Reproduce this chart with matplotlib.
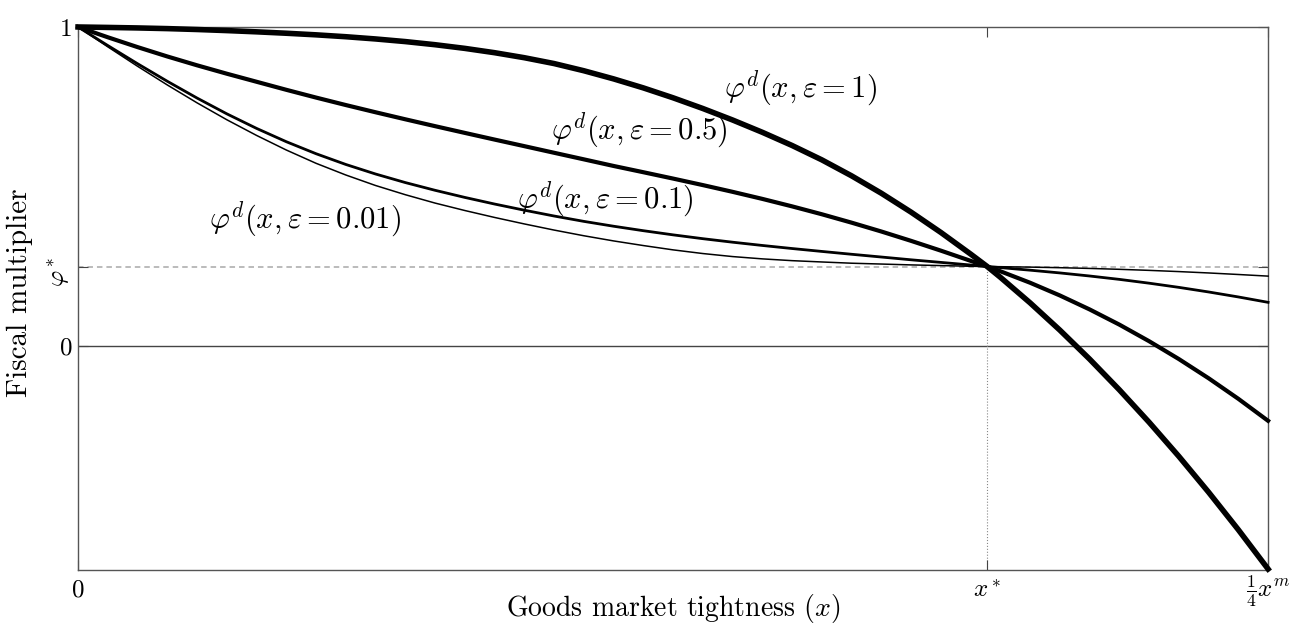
import matplotlib
matplotlib.use("Agg")
import matplotlib.pyplot as plt

plt.rcParams['font.family'] = 'serif'
plt.rcParams['font.serif'] = ['cmr10', 'DejaVu Serif']
plt.rcParams['mathtext.fontset'] = 'cm'
plt.rcParams['axes.unicode_minus'] = False

# goods market tightness, as a share of x^m/4
x = [0.0, 0.025, 0.05, 0.075, 0.1, 0.125, 0.15, 0.175, 0.2, 0.225, 0.25,
     0.275, 0.3, 0.325, 0.35, 0.375, 0.4, 0.425, 0.45, 0.475, 0.5, 0.525,
     0.55, 0.575, 0.6, 0.625, 0.65, 0.675, 0.7, 0.725, 0.75, 0.764, 0.775,
     0.8, 0.825, 0.85, 0.875, 0.9, 0.925, 0.95, 0.975, 1.0]

phi_eps1 = [1.0, 0.9986, 0.997, 0.9949, 0.9921, 0.9887, 0.9848, 0.9804,
            0.9754, 0.9695, 0.9625, 0.9543, 0.9445, 0.933, 0.9195, 0.9038,
            0.8855, 0.863, 0.8375, 0.8093, 0.7783, 0.7448, 0.7088, 0.6703,
            0.629, 0.584, 0.534, 0.4795, 0.4203, 0.3568, 0.2892, 0.25,
            0.2165, 0.1364, 0.051, -0.0397, -0.1359, -0.2374, -0.3442,
            -0.4564, -0.574, -0.697]

phi_eps05 = [1.0, 0.9678, 0.937, 0.9077, 0.88, 0.8537, 0.8285, 0.8033,
             0.779, 0.7556, 0.733, 0.711, 0.6895, 0.6684, 0.6475, 0.6269,
             0.6062, 0.5856, 0.5649, 0.5453, 0.5254, 0.505, 0.4839, 0.4618,
             0.4384, 0.4137, 0.3874, 0.3597, 0.3304, 0.2998, 0.2679, 0.25,
             0.2353, 0.1993, 0.1595, 0.1158, 0.0682, 0.0163, -0.0396,
             -0.0997, -0.1641, -0.233]

phi_eps01 = [1.0, 0.9419, 0.885, 0.83, 0.7775, 0.7281, 0.6825, 0.6408,
             0.6032, 0.5696, 0.5397, 0.5129, 0.4887, 0.4664, 0.4457, 0.4264,
             0.4082, 0.3914, 0.3762, 0.3622, 0.3492, 0.3372, 0.3262, 0.316,
             0.3064, 0.2973, 0.2884, 0.2798, 0.2711, 0.263, 0.2548, 0.25,
             0.2467, 0.2386, 0.23, 0.2204, 0.2098, 0.1979, 0.1848, 0.1704,
             0.1548, 0.1379]

phi_eps001 = [1.0, 0.9379, 0.877, 0.8185, 0.7625, 0.7096, 0.6605, 0.6148,
              0.5732, 0.5366, 0.5037, 0.4749, 0.4487, 0.4254, 0.4037, 0.3834,
              0.3642, 0.3464, 0.3302, 0.3157, 0.3022, 0.2907, 0.2812, 0.274,
              0.2684, 0.2643, 0.2604, 0.2578, 0.2551, 0.253, 0.2508, 0.25,
              0.2495, 0.2482, 0.2464, 0.2441, 0.2413, 0.238, 0.2342, 0.2299,
              0.2251, 0.22]

x_star = 0.764
phi_star = 0.25

fig = plt.figure(figsize=(12.9, 6.26), dpi=100)
ax = fig.add_axes([0.0605, 0.0895, 0.9225, 0.8674])

ax.axhline(phi_star, color='#a8a8a8', lw=1.1, ls=(0, (3.6, 2.6)), zorder=1)
ax.axhline(0, color='#444444', lw=1.0, zorder=1)
ax.plot([x_star, x_star], [-0.7, phi_star], color='#888888', lw=0.8, ls=':', zorder=1)

ax.plot(x, phi_eps001, color='black', lw=1.1, clip_on=False, zorder=3)
ax.plot(x, phi_eps01, color='black', lw=2.0, clip_on=False, zorder=3)
ax.plot(x, phi_eps05, color='black', lw=3.0, clip_on=False, zorder=3)
ax.plot(x, phi_eps1, color='black', lw=4.0, clip_on=False, zorder=3)

fs = 22
ax.text(0.6075, 0.81, r'$\varphi^d(x,\varepsilon=1)$', fontsize=fs, ha='center', va='center')
ax.text(0.472, 0.678, r'$\varphi^d(x,\varepsilon=0.5)$', fontsize=fs, ha='center', va='center')
ax.text(0.443, 0.46, r'$\varphi^d(x,\varepsilon=0.1)$', fontsize=fs, ha='center', va='center')
ax.text(0.191, 0.397, r'$\varphi^d(x,\varepsilon=0.01)$', fontsize=fs, ha='center', va='center')

ax.set_xlim(0, 1)
ax.set_ylim(-0.7, 1)
ax.set_xticks([0, x_star, 1])
ax.set_xticklabels(['0', r'$x^*$', r'$\frac{1}{4}x^m$'], fontsize=18, va='center')
ax.set_yticks([0, phi_star, 1])
ax.set_yticklabels(['0', r'$\varphi^*$', '1'], fontsize=18)
ax.get_yticklabels()[1].set_rotation(90)
ax.tick_params(direction='in', length=7, width=0.8, color='#444444',
               top=True, right=True)
ax.tick_params(axis='x', pad=15)
ax.tick_params(axis='y', pad=4)

for s in ax.spines.values():
    s.set_color('#555555')
    s.set_linewidth(1.0)

ax.set_xlabel(r'Goods market tightness ($x$)', fontsize=20)
ax.xaxis.set_label_coords(0.5, -0.04)
ax.set_ylabel('Fiscal multiplier', fontsize=21)
ax.yaxis.set_label_coords(-0.038, 0.51)

fig.savefig('out.png', dpi=100)
